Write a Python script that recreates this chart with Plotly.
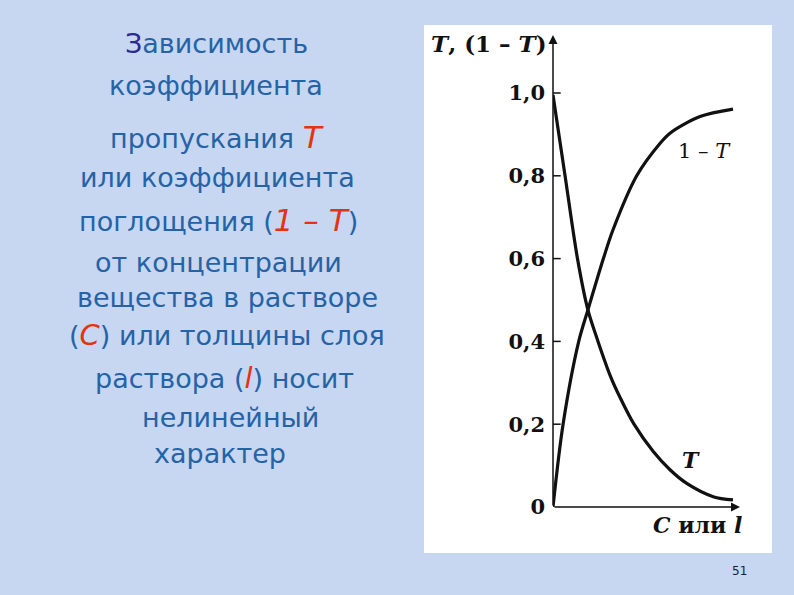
import plotly.graph_objects as go

# ---- data ----
t_x = [0, 0.67, 1.36, 1.94, 2.5, 3.2, 3.72, 4.5, 5.57, 6.5, 7.43, 8.9, 10]
t_y = [0.995, 0.80, 0.60, 0.476, 0.40, 0.315, 0.265, 0.20, 0.134, 0.09, 0.057, 0.025, 0.017]

a_x = [0, 0.56, 1.43, 1.94, 2.8, 3.33, 4.65, 5.94, 6.5, 8.17, 10]
a_y = [0, 0.20, 0.40, 0.476, 0.60, 0.669, 0.80, 0.878, 0.903, 0.943, 0.961]

tick_vals = [0, 0.2, 0.4, 0.6, 0.8, 1.0]
tick_text = ["0", "0,2", "0,4", "0,6", "0,8", "1,0"]

y_axis_top = 1.14
x_axis_end = 10.39

# ---- layout helpers (pixel -> paper) ----
W, H = 794, 595
L, R, T, B = 553, 53, 30, 88
PW, PH = W - L - R, H - T - B


def px(x):
    return (x - L) / PW


def py(y):
    return (H - B - y) / PH


BG = "#c7d6f1"
BLUE = "#2563a6"
RED = "#e5330f"
SERIF = "DejaVu Serif"
SANS = "DejaVu Sans"

fig = go.Figure()

fig.add_trace(go.Scatter(x=t_x, y=t_y, mode="lines",
                         line=dict(color="#111111", width=3.2, shape="spline", smoothing=0.9),
                         hoverinfo="skip"))
fig.add_trace(go.Scatter(x=a_x, y=a_y, mode="lines",
                         line=dict(color="#111111", width=3.2, shape="spline", smoothing=0.9),
                         hoverinfo="skip"))
# tick marks crossing the axis
fig.add_trace(go.Scatter(x=[0] * (len(tick_vals) - 1), y=tick_vals[1:], mode="markers",
                         marker=dict(symbol="line-ew", size=11, line=dict(color="#111", width=1.5)),
                         hoverinfo="skip"))

shapes = [dict(type="rect", xref="paper", yref="paper",
               x0=px(424), x1=px(772), y0=py(553), y1=py(25),
               fillcolor="white", line=dict(width=0), layer="below")]

ann = []
# axes with arrows
ann.append(dict(x=0, y=y_axis_top, ax=0, ay=0, xref="x", yref="y", axref="x", ayref="y",
                showarrow=True, arrowhead=2, arrowsize=1.2, arrowwidth=1.5, arrowcolor="#111", text=""))
ann.append(dict(x=x_axis_end, y=0, ax=0, ay=0, xref="x", yref="y", axref="x", ayref="y",
                showarrow=True, arrowhead=2, arrowsize=1.2, arrowwidth=1.5, arrowcolor="#111", text=""))

# axis titles and curve labels
ann.append(dict(x=px(549), y=py(43), xref="paper", yref="paper", xanchor="right", yanchor="middle",
                text="<i>T</i>, (1 – <i>T</i>)", showarrow=False,
                font=dict(family=SERIF, size=23, color="#111", weight="bold")))
ann.append(dict(x=px(744), y=py(525), xref="paper", yref="paper", xanchor="right", yanchor="middle",
                text="<i>C</i> или <i>l</i>", showarrow=False,
                font=dict(family=SERIF, size=22, color="#111", weight="bold")))
ann.append(dict(x=px(704), y=py(151), xref="paper", yref="paper", xanchor="center", yanchor="middle",
                text="1 – <i>T</i>", showarrow=False,
                font=dict(family=SERIF, size=21, color="#111")))
ann.append(dict(x=px(691), y=py(460), xref="paper", yref="paper", xanchor="center", yanchor="middle",
                text="<i>T</i>", showarrow=False,
                font=dict(family=SERIF, size=22, color="#111", weight="bold")))

# left descriptive text
def red(s, size=31):
    return f"<span style='color:{RED};font-size:{size}px'><i>{s}</i></span>"

lines = [
    (123, 43, "<span style='color:#2b2b8f'>З</span>ависимость"),
    (107, 85, "коэффициента"),
    (108, 137, "пропускания " + red("T")),
    (78, 177, "или коэффициента"),
    (77, 220, "поглощения (" + red("1 – T") + ")"),
    (93, 262, "от концентрации"),
    (75, 297, "вещества в растворе"),
    (67, 335, "(" + red("C", 29) + ") или толщины слоя"),
    (93, 378, "раствора (" + red("l", 29) + ") носит"),
    (140, 417, "нелинейный"),
    (152, 453, "характер"),
]
for x0, y0, s in lines:
    ann.append(dict(x=px(x0), y=py(y0), xref="paper", yref="paper", xanchor="left", yanchor="middle",
                    text=s, showarrow=False, font=dict(family=SANS, size=27, color=BLUE)))

ann.append(dict(x=px(739), y=py(571), xref="paper", yref="paper", xanchor="center", yanchor="middle",
                text="51", showarrow=False, font=dict(family=SANS, size=12, color="#1a1a40")))

fig.update_layout(
    width=W, height=H,
    margin=dict(l=L, r=R, t=T, b=B),
    paper_bgcolor=BG,
    plot_bgcolor="rgba(0,0,0,0)",
    showlegend=False,
    shapes=shapes,
    annotations=ann,
    xaxis=dict(range=[0, PW / 18], showgrid=False, zeroline=False, showline=False,
               showticklabels=False, ticks="", fixedrange=True),
    yaxis=dict(range=[0, PH / 414], showgrid=False, zeroline=False, showline=False,
               tickvals=tick_vals, ticktext=tick_text, ticks="", ticklabelstandoff=7,
               tickfont=dict(family=SERIF, size=21, color="#111", weight="bold"), fixedrange=True),
)

fig.write_html("out.html", config={"displayModeBar": False},
               post_script=f"document.body.style.margin='0';document.body.style.background='{BG}';")
